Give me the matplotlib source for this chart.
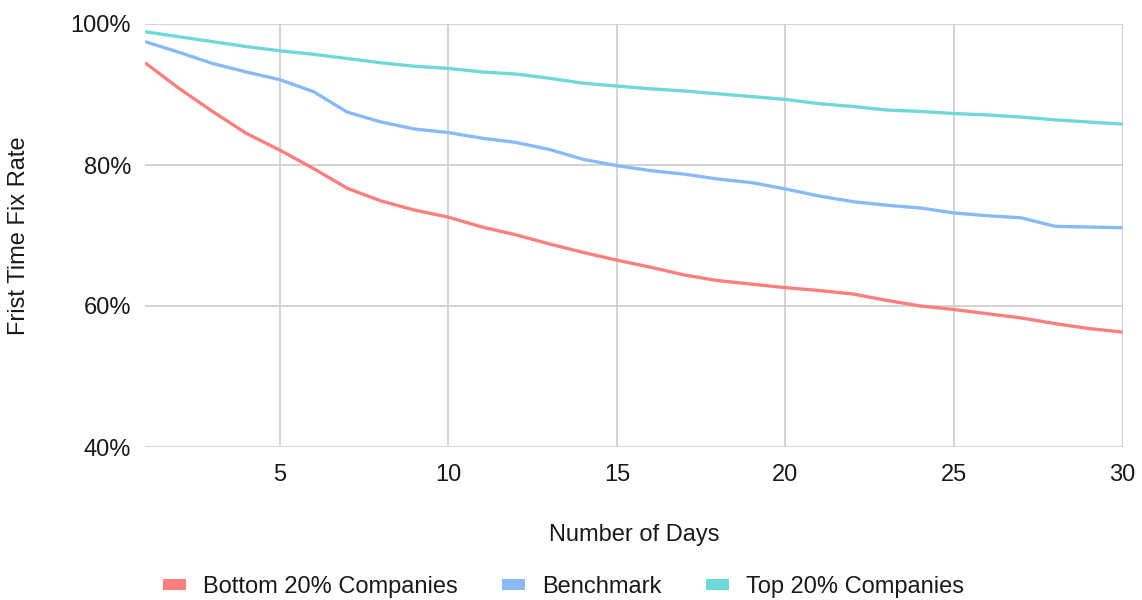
import numpy as np
import matplotlib
matplotlib.use('Agg')
import matplotlib.pyplot as plt
from matplotlib.patches import Patch
from matplotlib.ticker import FuncFormatter

plt.rcParams['font.family'] = ['Liberation Sans', 'DejaVu Sans']

days = list(range(1, 31))
bottom_20 = [94.5, 90.9, 87.6, 84.5, 82.1, 79.5, 76.7, 74.9, 73.6, 72.6,
             71.2, 70.1, 68.8, 67.6, 66.5, 65.5, 64.4, 63.6, 63.1, 62.6,
             62.2, 61.7, 60.8, 60.0, 59.5, 58.9, 58.3, 57.5, 56.8, 56.3]
benchmark = [97.5, 96.0, 94.4, 93.2, 92.1, 90.4, 87.5, 86.1, 85.1, 84.6,
             83.8, 83.2, 82.2, 80.8, 79.9, 79.2, 78.7, 78.0, 77.5, 76.6,
             75.6, 74.8, 74.3, 73.9, 73.2, 72.8, 72.5, 71.3, 71.2, 71.1]
top_20 = [98.9, 98.2, 97.5, 96.8, 96.2, 95.7, 95.1, 94.5, 94.0, 93.7,
          93.2, 92.9, 92.3, 91.6, 91.2, 90.8, 90.5, 90.1, 89.7, 89.3,
          88.7, 88.3, 87.8, 87.6, 87.3, 87.1, 86.8, 86.4, 86.1, 85.8]

series = [
    ('Bottom 20% Companies', bottom_20, '#fb7f7f'),
    ('Benchmark', benchmark, '#8abaf6'),
    ('Top 20% Companies', top_20, '#6fd8d8'),
]

FS = 17
TXT = '#1a1a1a'

fig = plt.figure(figsize=(11.42, 6), dpi=100)
ax = fig.add_axes([0.127, 0.255, 0.856, 0.705])

for name, vals, color in series:
    ax.plot(days, vals, color=color, lw=2.4, solid_capstyle='butt', zorder=3)

ax.set_xlim(1, 30)
ax.set_ylim(40, 100)
ax.set_xticks([5, 10, 15, 20, 25, 30])
ax.set_yticks([40, 60, 80, 100])
ax.yaxis.set_major_formatter(FuncFormatter(lambda v, p: f'{v:.0f}%'))
ax.grid(True, color='#cccccc', lw=1.2, zorder=0)
ax.axvline(30, color='#cccccc', lw=1.2, zorder=0)
for s in ax.spines.values():
    s.set_visible(False)
ax.tick_params(axis='both', length=0, labelsize=FS, colors=TXT)
ax.tick_params(axis='y', pad=10)
ax.tick_params(axis='x', pad=12)

ax.set_xlabel('Number of Days', fontsize=FS, color=TXT, va='center')
ax.xaxis.set_label_coords(0.5, -0.208)
ax.set_ylabel('Frist Time Fix Rate', fontsize=FS, color=TXT, va='center')
ax.yaxis.set_label_coords(-0.129, 0.5)

handles = [Patch(facecolor=c, edgecolor='none', label=n) for n, _, c in series]
fig.legend(handles=handles, loc='center', bbox_to_anchor=(0.4934, 0.022),
           ncol=3, frameon=False, fontsize=FS, handlelength=0.97, handleheight=0.34,
           columnspacing=1.9, handletextpad=0.72, labelcolor=TXT,
           borderpad=0, borderaxespad=0)

fig.savefig('out.png', dpi=100)
